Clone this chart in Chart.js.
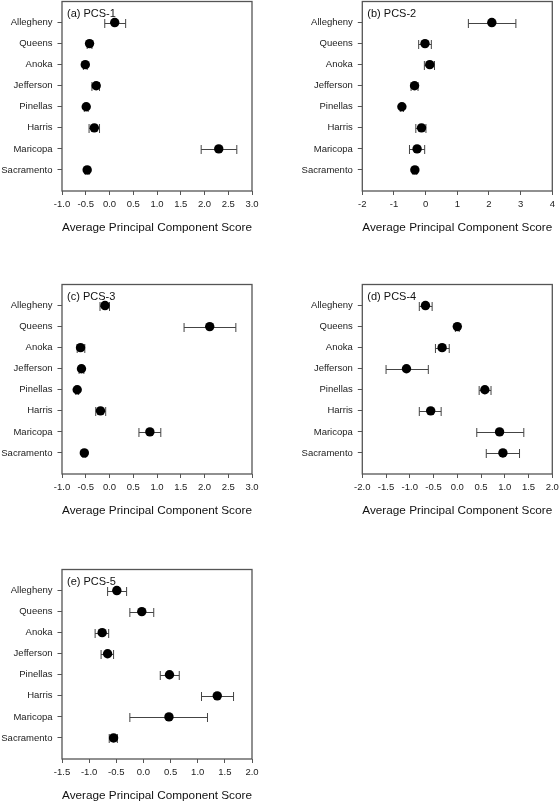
<!DOCTYPE html>
<html>
<head>
<meta charset="utf-8">
<script src="https://cdn.jsdelivr.net/npm/chart.js@4.4.1/dist/chart.umd.min.js"></script>
<style>
  html, body { margin: 0; padding: 0; background: #fff; }
  body { width: 560px; height: 804px; position: relative; overflow: hidden; }
  .panel { position: absolute; width: 280px; height: 244px; }
</style>
</head>
<body>
<div class="panel" style="left:0;top:0"><canvas id="pa" width="280" height="244"></canvas></div>
<div class="panel" style="left:280px;top:0"><canvas id="pb" width="280" height="244"></canvas></div>
<div class="panel" style="left:0;top:283px"><canvas id="pc" width="280" height="244"></canvas></div>
<div class="panel" style="left:280px;top:283px"><canvas id="pd" width="280" height="244"></canvas></div>
<div class="panel" style="left:0;top:567.5px"><canvas id="pe" width="280" height="244"></canvas></div>
<script>
const counties = ['Allegheny', 'Queens', 'Anoka', 'Jefferson', 'Pinellas', 'Harris', 'Maricopa', 'Sacramento'];

// mean score and error bar ends for each component
const pcs1 = [0.11, -0.42, -0.51, -0.28, -0.49, -0.32, 2.30, -0.47];
const pcs1Lo = [-0.10, -0.47, -0.55, -0.37, -0.53, -0.43, 1.93, -0.51];
const pcs1Hi = [0.34, -0.37, -0.47, -0.21, -0.45, -0.21, 2.68, -0.43];

const pcs2 = [2.09, -0.02, 0.13, -0.35, -0.75, -0.13, -0.27, -0.34];
const pcs2Lo = [1.35, -0.22, -0.04, -0.46, -0.80, -0.31, -0.51, -0.40];
const pcs2Hi = [2.85, 0.18, 0.28, -0.24, -0.70, 0.01, -0.03, -0.28];

const pcs3 = [-0.095, 2.11, -0.61, -0.59, -0.68, -0.19, 0.85, -0.53];
const pcs3Lo = [-0.20, 1.57, -0.68, -0.64, -0.71, -0.29, 0.62, -0.56];
const pcs3Hi = [0.00, 2.66, -0.52, -0.54, -0.65, -0.08, 1.08, -0.50];

const pcs4 = [-0.67, 0.00, -0.32, -1.07, 0.58, -0.56, 0.89, 0.96];
const pcs4Lo = [-0.80, -0.04, -0.46, -1.50, 0.46, -0.80, 0.41, 0.61];
const pcs4Hi = [-0.53, 0.04, -0.17, -0.61, 0.71, -0.34, 1.40, 1.31];

const pcs5 = [-0.49, -0.03, -0.76, -0.66, 0.48, 1.36, 0.47, -0.55];
const pcs5Lo = [-0.66, -0.25, -0.89, -0.78, 0.31, 1.07, -0.25, -0.63];
const pcs5Hi = [-0.31, 0.19, -0.64, -0.55, 0.66, 1.66, 1.18, -0.48];

const panelLabels = ['(a) PCS-1', '(b) PCS-2', '(c) PCS-3', '(d) PCS-4', '(e) PCS-5'];
const xRanges = [[-1, 3, 0.5], [-2, 4, 1], [-1, 3, 0.5], [-2, 2, 0.5], [-1.5, 2, 0.5]];
const axisTitle = 'Average Principal Component Score';

const FONT = "'Liberation Sans', Arial, Helvetica, sans-serif";

function decor(lo, hi, label) {
  return {
    id: 'decor',
    beforeDatasetsDraw(chart) {
      const { ctx, scales: { x, y } } = chart;
      ctx.save();
      ctx.strokeStyle = '#444';
      ctx.lineWidth = 1;
      lo.forEach((l, i) => {
        const py = Math.round(y.getPixelForValue(i + 1)) + 0.5;
        const x1 = x.getPixelForValue(l);
        const x2 = x.getPixelForValue(hi[i]);
        ctx.beginPath();
        ctx.moveTo(x1, py); ctx.lineTo(x2, py);
        ctx.moveTo(x1, py - 4.5); ctx.lineTo(x1, py + 4.5);
        ctx.moveTo(x2, py - 4.5); ctx.lineTo(x2, py + 4.5);
        ctx.stroke();
      });
      ctx.restore();
    },
    afterDraw(chart) {
      const { ctx, chartArea: a } = chart;
      ctx.save();
      ctx.strokeStyle = '#555';
      ctx.lineWidth = 1.3;
      ctx.strokeRect(a.left, a.top, a.right - a.left, a.bottom - a.top);
      ctx.fillStyle = '#111';
      ctx.font = '11px ' + FONT;
      ctx.textBaseline = 'middle';
      ctx.textAlign = 'left';
      ctx.fillText(label, a.left + 5, a.top + 12);
      ctx.restore();
    }
  };
}

function makePanel(id, vals, lo, hi, idx, yWidth, padRight) {
  const [xmin, xmax, step] = xRanges[idx];
  new Chart(document.getElementById(id), {
    type: 'scatter',
    data: {
      datasets: [{
        data: vals.map((v, i) => ({ x: v, y: i + 1 })),
        backgroundColor: '#000',
        borderWidth: 0,
        pointRadius: 4.7
      }]
    },
    options: {
      responsive: false,
      animation: false,
      devicePixelRatio: 1,
      layout: { autoPadding: false, padding: { left: 0, right: padRight, top: 1.5, bottom: 0 } },
      plugins: { legend: { display: false }, tooltip: { enabled: false } },
      scales: {
        x: {
          type: 'linear',
          min: xmin,
          max: xmax,
          border: { display: false },
          grid: { drawOnChartArea: false, drawTicks: true, tickLength: 4, color: '#555' },
          ticks: {
            stepSize: step,
            autoSkip: false,
            maxRotation: 0,
            padding: 4,
            color: '#222',
            font: { family: FONT, size: 9.5 },
            callback: v => step < 1 ? Number(v).toFixed(1) : String(v)
          },
          title: {
            display: true,
            text: axisTitle,
            color: '#111',
            font: { family: FONT, size: 11.8 },
            padding: { top: 0, bottom: 9 }
          },
          afterFit: s => { s.height = 53; s.paddingLeft = 0; s.paddingRight = 0; }
        },
        y: {
          type: 'linear',
          min: 0,
          max: 9,
          reverse: true,
          border: { display: false },
          grid: { drawOnChartArea: false, drawTicks: true, tickLength: 4.5, color: '#555' },
          afterBuildTicks: s => { s.ticks = counties.map((c, i) => ({ value: i + 1 })); },
          ticks: {
            autoSkip: false,
            padding: 5,
            color: '#222',
            font: { family: FONT, size: 9.5 },
            callback: v => counties[v - 1] || ''
          },
          afterFit: s => { s.width = yWidth; s.paddingTop = 0; s.paddingBottom = 0; }
        }
      }
    },
    plugins: [decor(lo, hi, panelLabels[idx])]
  });
}

makePanel('pa', pcs1, pcs1Lo, pcs1Hi, 0, 62, 28);
makePanel('pb', pcs2, pcs2Lo, pcs2Hi, 1, 82.3, 7.7);
makePanel('pc', pcs3, pcs3Lo, pcs3Hi, 2, 62, 28);
makePanel('pd', pcs4, pcs4Lo, pcs4Hi, 3, 82.3, 7.7);
makePanel('pe', pcs5, pcs5Lo, pcs5Hi, 4, 62, 28);
</script>
</body>
</html>
